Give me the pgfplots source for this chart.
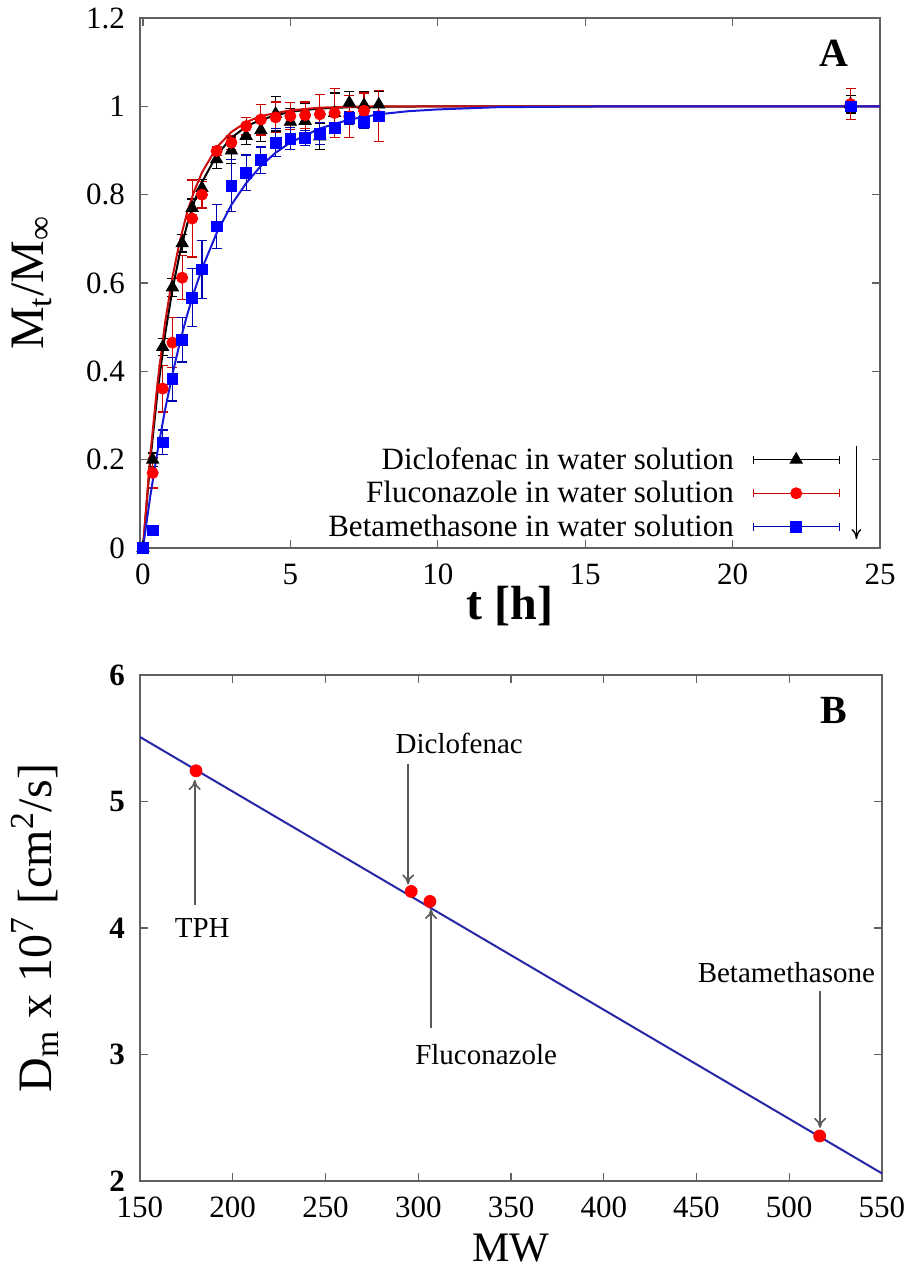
\documentclass[border=0pt]{standalone}
\usepackage{fontspec}
\setmainfont{Liberation Serif}
\usepackage{pgfplots}
\pgfplotsset{compat=1.18}
\usetikzlibrary{arrows.meta}

\definecolor{fitred}{rgb}{0.80,0.05,0.05}
\definecolor{fitblue}{rgb}{0.10,0.10,0.85}
\definecolor{lineblue}{rgb}{0.15,0.15,0.65}
\definecolor{framegray}{gray}{0.38}
\definecolor{arrowgray}{gray}{0.35}

\pgfplotsset{
  panel/.style={
    scale only axis,
    axis line style={framegray, line width=0.9pt},
    tick style={framegray, line width=0.6pt},
    major tick length=4pt,
    tick align=inside,
    tick label style={font=\fontsize{15.5}{17}\selectfont},
    xticklabel style={yshift=-4.5pt},
    yticklabel style={xshift=-4pt},
    /pgf/number format/assume math mode=true,
    label style={font=\fontsize{24}{28}\selectfont},
  },
  ebar/.style={error bars/.cd, y dir=both, y explicit,
    error bar style={#1, line width=0.6pt},
    error mark options={rotate=90, #1, mark size=2.5pt, line width=0.6pt}},
}

\begin{document}
\begin{tikzpicture}
\path[use as bounding box] (0pt,0pt) rectangle (457pt,-635pt);

% ---- panel A ----
\begin{axis}[panel,
  at={(70pt,-9pt)}, anchor=north west,
  width=370pt, height=265pt,
  xmin=-0.1, xmax=25, ymin=0, ymax=1.2,
  xtick={0,5,10,15,20,25},
  ytick={0,0.2,0.4,0.6,0.8,1,1.2},
  xlabel={\textbf{t [h]}},
  ylabel={M\textsubscript{t}/M\textsubscript{∞}},
  xlabel style={at={(axis description cs:0.5,-0.11)}, anchor=center},
  ylabel style={at={(axis description cs:-0.146,0.5)}, anchor=center},
  legend plot pos=right,
  legend cell align=right,
  legend style={at={(axis cs:23.85,0.245)}, anchor=north east,
    draw=none, fill=none, font=\fontsize{15.5}{17}\selectfont,
    row sep=1.5pt, nodes={inner sep=1.5pt}},
]
\addplot[only marks, mark=triangle*, mark size=3.5pt, black,
  legend image code/.code={
    \path (0pt,-2pt) (0pt,2pt);
    \draw[black, line width=0.5pt] (8pt,-2pt)--(8pt,2pt) (8pt,0pt)--(51pt,0pt) (51pt,-2pt)--(51pt,2pt);
    \draw[black, mark=triangle*, mark size=3.5pt] plot coordinates {(29.5pt,0pt)};},
  ebar=black] coordinates {
  (0,0) +- (0,0.005)
  (0.33,0.20) +- (0,0.015)
  (0.67,0.455) +- (0,0.02)
  (1,0.59) +- (0,0.02)
  (1.33,0.69) +- (0,0.02)
  (1.67,0.77) +- (0,0.02)
  (2,0.815) +- (0,0.02)
  (2.5,0.88) +- (0,0.02)
  (3,0.90) +- (0,0.03)
  (3.5,0.933) +- (0,0.02)
  (4,0.946) +- (0,0.025)
  (4.5,0.983) +- (0,0.039)
  (5,0.965) +- (0,0.03)
  (5.5,0.967) +- (0,0.04)
  (6,0.932) +- (0,0.03)
  (6.5,0.985) +- (0,0.045)
  (7,1.008) +- (0,0.025)
  (7.5,1.003) +- (0,0.03)
  (8,1.004) +- (0,0.03)
  (24,1.005) +- (0,0.02)
};
\addlegendentry{Diclofenac in water solution}
\addplot[only marks, mark=*, mark size=2.8pt, red,
  legend image code/.code={
    \path (0pt,-2pt) (0pt,2pt);
    \draw[red!80!black, line width=0.5pt] (8pt,-2pt)--(8pt,2pt) (8pt,0pt)--(51pt,0pt) (51pt,-2pt)--(51pt,2pt);
    \draw[red, mark=*, mark size=2.8pt] plot coordinates {(29.5pt,0pt)};},
  ebar={red!80!black}] coordinates {
  (0,0) +- (0,0.005)
  (0.33,0.17) +- (0,0.034)
  (0.67,0.361) +- (0,0.053)
  (1,0.465) +- (0,0.057)
  (1.33,0.612) +- (0,0.05)
  (1.67,0.746) +- (0,0.087)
  (2,0.80) +- (0,0.03)
  (2.5,0.899) +- (0,0.01)
  (3,0.918) +- (0,0.015)
  (3.5,0.955) +- (0,0.02)
  (4,0.97) +- (0,0.035)
  (4.5,0.975) +- (0,0.035)
  (5,0.978) +- (0,0.03)
  (5.5,0.98) +- (0,0.03)
  (6,0.982) +- (0,0.045)
  (6.5,0.985) +- (0,0.055)
  (7,0.977) +- (0,0.047)
  (7.5,0.99) +- (0,0.04)
  (8,0.978) +- (0,0.057)
  (24,1.005) +- (0,0.035)
};
\addlegendentry{Fluconazole in water solution}
\addplot[only marks, mark=square*, mark size=2.7pt, blue,
  legend image code/.code={
    \path (0pt,-2pt) (0pt,2pt);
    \draw[blue!70!black, line width=0.5pt] (8pt,-2pt)--(8pt,2pt) (8pt,0pt)--(51pt,0pt) (51pt,-2pt)--(51pt,2pt);
    \draw[blue, mark=square*, mark size=2.7pt] plot coordinates {(29.5pt,0pt)};},
  ebar={blue!70!black}] coordinates {
  (0,0) +- (0,0.005)
  (0.33,0.04) +- (0,0.01)
  (0.67,0.239) +- (0,0.028)
  (1,0.382) +- (0,0.049)
  (1.33,0.471) +- (0,0.05)
  (1.67,0.567) +- (0,0.065)
  (2,0.631) +- (0,0.066)
  (2.5,0.728) +- (0,0.049)
  (3,0.82) +- (0,0.059)
  (3.5,0.85) +- (0,0.04)
  (4,0.878) +- (0,0.03)
  (4.5,0.918) +- (0,0.032)
  (5,0.927) +- (0,0.025)
  (5.5,0.928) +- (0,0.017)
  (6,0.938) +- (0,0.025)
  (6.5,0.952) +- (0,0.012)
  (7,0.973) +- (0,0.015)
  (7.5,0.965) +- (0,0.015)
  (8,0.977) +- (0,0.012)
  (24,1.0) +- (0,0.01)
};
\addlegendentry{Betamethasone in water solution}

% fitted release curves
\addplot[black, line width=1pt, forget plot] coordinates {
  (0,0) (0.25,0.198) (0.5,0.356) (0.75,0.483) (1,0.585) (1.25,0.667)
  (1.5,0.733) (1.75,0.786) (2,0.828) (2.5,0.889) (3,0.929) (3.5,0.954)
  (4,0.970) (5,0.988) (6,0.995) (7,0.998) (8,0.999) (10,1.0) (25,1.0)};
\addplot[fitred, line width=1pt, forget plot] coordinates {
  (0,0) (0.25,0.211) (0.5,0.378) (0.75,0.510) (1,0.613) (1.25,0.695)
  (1.5,0.760) (1.75,0.810) (2,0.850) (2.5,0.907) (3,0.942) (3.5,0.964)
  (4,0.978) (5,0.991) (6,0.997) (7,0.999) (8,1.0) (25,1.0)};
\addplot[fitblue, line width=1pt, forget plot] coordinates {
  (0,0) (0.25,0.118) (0.5,0.221) (0.75,0.313) (1,0.393) (1.25,0.465)
  (1.5,0.528) (1.75,0.583) (2,0.632) (2.5,0.713) (3,0.777) (3.5,0.826)
  (4,0.865) (4.5,0.895) (5,0.918) (6,0.950) (7,0.970) (8,0.982)
  (9,0.989) (10,0.993) (12,0.998) (14,0.999) (16,1.0) (25,1.0)};

\draw[black, line width=0.7pt, -{To[length=5pt,width=5pt]}] (axis cs:24.2,0.232) -- (axis cs:24.2,0.02);
\node[font=\bfseries\fontsize{20}{24}\selectfont] at (axis cs:23.45,1.121) {A};
\end{axis}

% ---- panel B ----
\begin{axis}[panel,
  at={(70pt,-337.5pt)}, anchor=north west,
  width=371pt, height=253pt,
  xmin=150, xmax=550, ymin=2, ymax=6,
  xtick={150,200,250,300,350,400,450,500,550},
  ytick={2,3,4,5,6},
  yticklabel style={font=\fontsize{15.5}{17}\selectfont\bfseries},
  xlabel={MW},
  ylabel={D\textsubscript{m} x 10\textsuperscript{7} [cm\textsuperscript{2}/s]},
  xlabel style={font=\fontsize{21}{24}\selectfont, inner sep=1pt,
    at={(axis description cs:0.5,-0.132)}, anchor=center},
  ylabel style={at={(axis description cs:-0.142,0.5)}, anchor=center},
]
\addplot[lineblue, line width=1pt] coordinates {(150,5.51) (550,2.06)};
\addplot[only marks, mark=*, mark size=3pt, red] coordinates {
  (180.2,5.243) (296.2,4.289) (306.3,4.21) (516.4,2.356)};

\begin{scope}[arrowgray, line width=0.8pt, -{To[length=5pt,width=6pt]}]
\draw (axis cs:179.5,4.18) -- (axis cs:179.5,5.17);
\draw (axis cs:294.5,5.30) -- (axis cs:294.5,4.345);
\draw (axis cs:306.9,3.21) -- (axis cs:306.9,4.15);
\draw (axis cs:516.6,3.50) -- (axis cs:516.6,2.42);
\end{scope}
\begin{scope}[every node/.style={font=\fontsize{14.5}{17}\selectfont}]
\node[anchor=west] at (axis cs:165,4.0) {TPH};
\node[anchor=west] at (axis cs:284,5.46) {Diclofenac};
\node[anchor=west] at (axis cs:294.6,3.0) {Fluconazole};
\node[anchor=east] at (axis cs:550,3.65) {Betamethasone};
\end{scope}
\node[font=\bfseries\fontsize{20}{24}\selectfont] at (axis cs:524,5.72) {B};
\end{axis}
\end{tikzpicture}
\end{document}
